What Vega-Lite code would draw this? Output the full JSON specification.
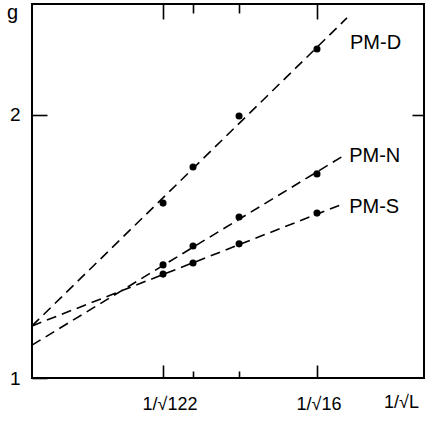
{
  "$schema": "https://vega.github.io/schema/vega-lite/v6.json",
  "width": 392,
  "height": 374,
  "autosize": "none",
  "padding": {"left": 32, "top": 4, "right": 2, "bottom": 46},
  "background": "white",
  "config": {
    "view": {"stroke": "black", "strokeWidth": 2},
    "font": "Liberation Sans",
    "axis": {"domain": false, "grid": false, "zindex": 1, "tickColor": "black", "tickWidth": 1.6, "labelColor": "black", "titleColor": "black", "labelFont": "Liberation Sans", "titleFont": "Liberation Sans", "titleFontWeight": "normal"}
  },
  "datasets": {
    "points": [
      {"series": "PM-D", "x": 0.0905, "g": 1.665},
      {"series": "PM-D", "x": 0.1112, "g": 1.802},
      {"series": "PM-D", "x": 0.1430, "g": 1.996},
      {"series": "PM-D", "x": 0.1968, "g": 2.251},
      {"series": "PM-N", "x": 0.0905, "g": 1.430},
      {"series": "PM-N", "x": 0.1112, "g": 1.502},
      {"series": "PM-N", "x": 0.1430, "g": 1.612},
      {"series": "PM-N", "x": 0.1968, "g": 1.776},
      {"series": "PM-S", "x": 0.0905, "g": 1.395},
      {"series": "PM-S", "x": 0.1112, "g": 1.437},
      {"series": "PM-S", "x": 0.1430, "g": 1.510},
      {"series": "PM-S", "x": 0.1968, "g": 1.627}
    ],
    "fits": [
      {"series": "PM-D", "x": 0, "g": 1.198},
      {"series": "PM-D", "x": 0.2175, "g": 2.369},
      {"series": "PM-N", "x": 0, "g": 1.125},
      {"series": "PM-N", "x": 0.2148, "g": 1.844},
      {"series": "PM-S", "x": 0, "g": 1.198},
      {"series": "PM-S", "x": 0.2148, "g": 1.662}
    ],
    "labels": [
      {"series": "PM-D", "x": 0.2196, "g": 2.274},
      {"series": "PM-N", "x": 0.2190, "g": 1.844},
      {"series": "PM-S", "x": 0.2190, "g": 1.650}
    ]
  },
  "layer": [
    {
      "data": {"name": "fits"},
      "mark": {"type": "line", "color": "black", "strokeWidth": 1.6, "strokeDash": [10, 6]},
      "encoding": {
        "x": {"field": "x", "type": "quantitative", "scale": {"domain": [0, 0.2707], "nice": false, "zero": false},
          "axis": {"orient": "bottom", "values": [0.0905, 0.1112, 0.1430, 0.1968], "title": "1/√L", "titleFontSize": 18, "titleX": 369, "titleY": 24, "titleBaseline": "middle", "titleAlign": "center",
            "tickSize": {"condition": {"test": "datum.value < 0.1 || datum.value > 0.19", "value": -13}, "value": -7},
            "labelExpr": "datum.value < 0.1 ? '1/√122' : (datum.value > 0.19 ? '1/√16' : '')",
            "labelFontSize": 18, "labelAlign": "left", "labelBaseline": "top", "labelOffset": -21, "labelPadding": 30}},
        "y": {"field": "g", "type": "quantitative", "scale": {"domain": [1, 2.422], "nice": false, "zero": false},
          "axis": {"orient": "left", "values": [1, 2], "tickSize": -15, "labelPadding": 27, "labelFontSize": 19, "labelAlign": "right", "labelBaseline": "middle",
            "title": "g", "titleAngle": 0, "titleFontSize": 20, "titleX": -20, "titleY": 8, "titleAlign": "center", "titleBaseline": "middle"}},
        "detail": {"field": "series"}
      }
    },
    {
      "data": {"name": "points"},
      "mark": {"type": "point", "filled": true, "color": "black", "opacity": 1, "size": 50},
      "encoding": {
        "x": {"field": "x", "type": "quantitative",
          "axis": {"orient": "top", "values": [0.0905, 0.1112, 0.1430, 0.1968], "labels": false, "title": null,
            "tickSize": {"condition": {"test": "datum.value < 0.1 || datum.value > 0.19", "value": -15}, "value": -9}}},
        "y": {"field": "g", "type": "quantitative",
          "axis": {"orient": "right", "values": [2], "labels": false, "title": null, "tickSize": -12}}
      }
    },
    {
      "data": {"name": "labels"},
      "mark": {"type": "text", "align": "left", "baseline": "middle", "fontSize": 20, "font": "Liberation Sans", "color": "black"},
      "encoding": {
        "x": {"field": "x", "type": "quantitative", "axis": null},
        "y": {"field": "g", "type": "quantitative", "axis": null},
        "text": {"field": "series"}
      }
    }
  ],
  "resolve": {"axis": {"x": "independent", "y": "independent"}}
}
